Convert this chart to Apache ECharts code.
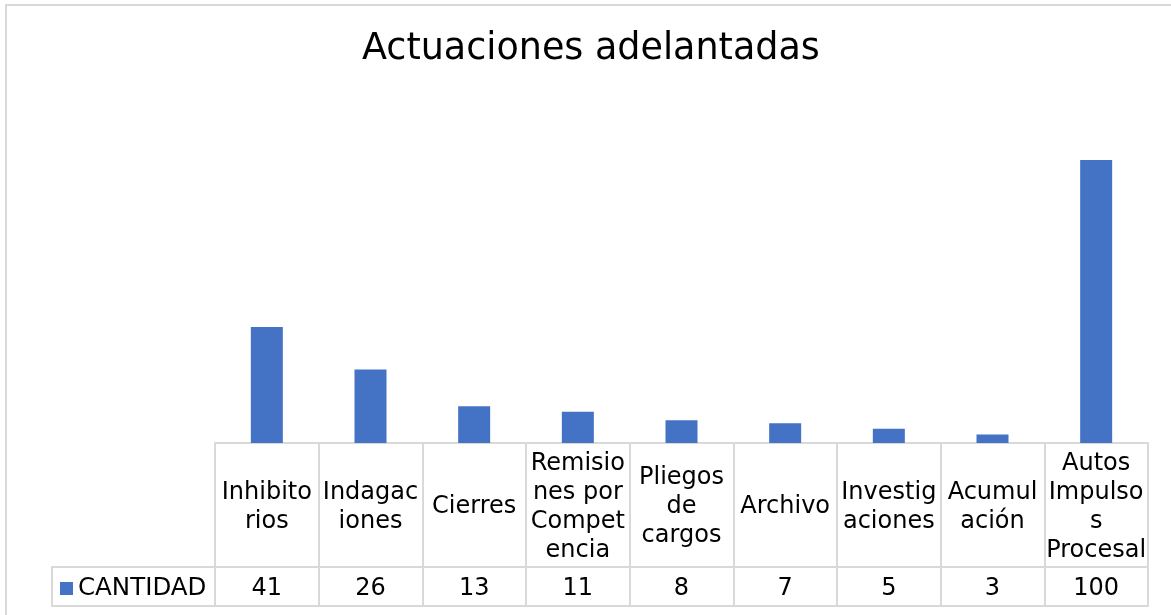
<!DOCTYPE html>
<html>
<head>
<meta charset="utf-8">
<title>Actuaciones adelantadas</title>
<script src="https://cdn.jsdelivr.net/npm/echarts@6/dist/echarts.min.js"></script>
<style>
  html, body { margin: 0; padding: 0; background: #fff; }
  #chart { width: 1171px; height: 615px; }
</style>
</head>
<body>
<div id="chart"></div>
<script>
// datos
const categorias = ['Inhibitorios', 'Indagaciones', 'Cierres', 'Remisiones por Competencia',
  'Pliegos de cargos', 'Archivo', 'Investigaciones', 'Acumulación', 'Autos Impulsos Procesal']
// como se parten los textos dentro de la tabla
const etiquetas = ['Inhibito\nrios', 'Indagac\niones', 'Cierres', 'Remisio\nnes por\nCompet\nencia',
  'Pliegos\nde\ncargos', 'Archivo', 'Investig\naciones', 'Acumul\nación', 'Autos\nImpulso\ns\nProcesal']
const cantidad = [41, 26, 13, 11, 8, 7, 5, 3, 100]
const serieNombre = 'CANTIDAD'

const borde = '#d9d9d9'
const fuente = 'DejaVu Sans'

const chart = echarts.init(document.getElementById('chart'))

chart.setOption({
  animation: false,
  title: {
    text: 'Actuaciones adelantadas',
    left: 357,
    top: 26,
    textStyle: { fontFamily: fuente, fontSize: 36.5, fontWeight: 'normal', color: '#000' }
  },
  legend: {
    data: [serieNombre],
    left: 60,
    top: 576,
    padding: 0,
    itemWidth: 13,
    itemHeight: 13,
    icon: 'rect',
    textStyle: { fontFamily: fuente, fontSize: 24.5, color: '#000' }
  },
  grid: {
    left: 215,
    right: 23,
    top: 160,
    bottom: 172
  },
  xAxis: [
    {
      // fila de nombres
      type: 'category',
      data: categorias,
      position: 'bottom',
      axisLine: { lineStyle: { color: borde, width: 2 } },
      axisTick: { show: true, length: 163, interval: 0, lineStyle: { color: borde, width: 2 } },
      axisLabel: {
        interval: 0,
        margin: 64,
        verticalAlign: 'middle',
        lineHeight: 29,
        fontFamily: fuente,
        fontSize: 24,
        color: '#000',
        formatter: (v, i) => etiquetas[i]
      }
    },
    {
      // fila de valores
      type: 'category',
      data: categorias,
      position: 'bottom',
      offset: 124,
      axisLine: { lineStyle: { color: borde, width: 2 } },
      axisTick: { show: false },
      axisLabel: {
        interval: 0,
        margin: 22,
        verticalAlign: 'middle',
        fontFamily: fuente,
        fontSize: 24,
        color: '#000',
        formatter: (v, i) => String(cantidad[i])
      }
    },
    {
      // borde inferior de la tabla
      type: 'category',
      data: categorias,
      position: 'bottom',
      offset: 163,
      axisLine: { lineStyle: { color: borde, width: 2 } },
      axisTick: { show: false },
      axisLabel: { show: false }
    }
  ],
  yAxis: {
    type: 'value',
    min: 0,
    max: 100,
    show: false
  },
  series: [{
    name: serieNombre,
    type: 'bar',
    xAxisIndex: 0,
    barWidth: 32,
    itemStyle: { color: '#4472C4' },
    data: cantidad
  }],
  graphic: [
    // marco exterior
    { type: 'line', shape: { x1: 5, y1: 5, x2: 1171, y2: 5 }, style: { stroke: borde, lineWidth: 2 } },
    { type: 'line', shape: { x1: 6, y1: 5, x2: 6, y2: 615 }, style: { stroke: borde, lineWidth: 2 } },
    // celda de la leyenda
    { type: 'rect', shape: { x: 52, y: 567, width: 163, height: 39 }, style: { fill: 'none', stroke: borde, lineWidth: 2 } }
  ]
})
</script>
</body>
</html>
